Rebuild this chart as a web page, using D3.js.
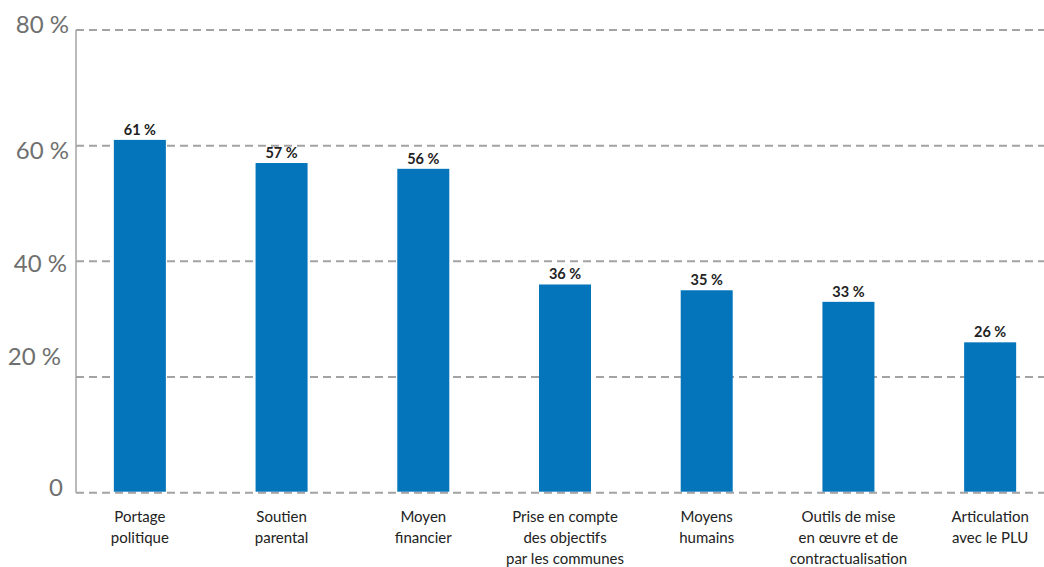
<!DOCTYPE html>
<html>
<head>
<meta charset="utf-8">
<script src="https://cdn.jsdelivr.net/npm/d3@7"></script>
<style>
  html, body { margin: 0; padding: 0; background: #fff; }
  svg { display: block; }
</style>
</head>
<body>
<svg id="chart" width="1044" height="567"></svg>
<script>
// Chart data
const categories = [
  ["Portage", "politique"],
  ["Soutien", "parental"],
  ["Moyen", "financier"],
  ["Prise en compte", "des objectifs", "par les communes"],
  ["Moyens", "humains"],
  ["Outils de mise", "en œuvre et de", "contractualisation"],
  ["Articulation", "avec le PLU"]
];
const values = [61, 57, 56, 36, 35, 33, 26];
const yTicks = [0, 20, 40, 60, 80];
const yTickLabels = ["0", "20 %", "40 %", "60 %", "80 %"];

// Layout
const W = 1044, H = 567;
const axisX = 76;
const yTop = 30, yBottom = 492.7;
const tickNudgeY = [-5, -20, 2, 5, -5];   // vertical shift of each tick label
const tickNudgeX = [-6, -8, -2, 0, 0];     // horizontal shift of each tick label

const svg = d3.select("#chart");
const keys = categories.map((c, i) => "c" + i);

const x = d3.scaleBand()
  .domain(keys)
  .range([69, 1061])
  .paddingInner(0.633)
  .paddingOuter(0.3165);

const y = d3.scaleLinear()
  .domain([0, 80])
  .range([yBottom, yTop]);

// Gridlines
svg.append("g")
  .selectAll("line")
  .data(yTicks)
  .join("line")
  .attr("x1", axisX)
  .attr("x2", W)
  .attr("y1", d => y(d))
  .attr("y2", d => y(d))
  .attr("stroke", "#a3a3a3")
  .attr("stroke-width", 2)
  .attr("stroke-dasharray", "8,5");

// Vertical axis line
svg.append("line")
  .attr("x1", axisX).attr("x2", axisX)
  .attr("y1", y(80)).attr("y2", y(0))
  .attr("stroke", "#a3a3a3")
  .attr("stroke-width", 1.5);

// Tick labels
svg.append("g")
  .selectAll("text")
  .data(yTicks)
  .join("text")
  .attr("x", (d, i) => 69 + tickNudgeX[i])
  .attr("y", (d, i) => y(d) + tickNudgeY[i])
  .attr("dy", "0.35em")
  .attr("text-anchor", "end")
  .attr("font-family", "Lato, 'Open Sans', sans-serif")
  .attr("font-size", 24)
  .attr("fill", "#6f6f6f")
  .text((d, i) => yTickLabels[i]);

// Bars
svg.append("g")
  .selectAll("rect")
  .data(values)
  .join("rect")
  .attr("x", (d, i) => x(keys[i]))
  .attr("width", x.bandwidth())
  .attr("y", d => y(d))
  .attr("height", d => y(0) - y(d) - 1)
  .attr("fill", "#0575bb");

// Value labels
svg.append("g")
  .selectAll("text")
  .data(values)
  .join("text")
  .attr("x", (d, i) => x(keys[i]) + x.bandwidth() / 2)
  .attr("y", d => y(d) - 5)
  .attr("text-anchor", "middle")
  .attr("font-family", "Lato, 'Open Sans', sans-serif")
  .attr("font-weight", "bold")
  .attr("font-size", 14.5)
  .attr("fill", "#222")
  .text(d => d + " %");

// Category labels
const catG = svg.append("g")
  .selectAll("text")
  .data(categories)
  .join("text")
  .attr("text-anchor", "middle")
  .attr("font-family", "Lato, 'Open Sans', sans-serif")
  .attr("font-size", 15)
  .attr("fill", "#222")
  .attr("transform", (d, i) => `translate(${x(keys[i]) + x.bandwidth() / 2},522)`);

catG.selectAll("tspan")
  .data(d => d)
  .join("tspan")
  .attr("x", 0)
  .attr("y", (d, i) => i * 21)
  .text(d => d);
</script>
</body>
</html>
